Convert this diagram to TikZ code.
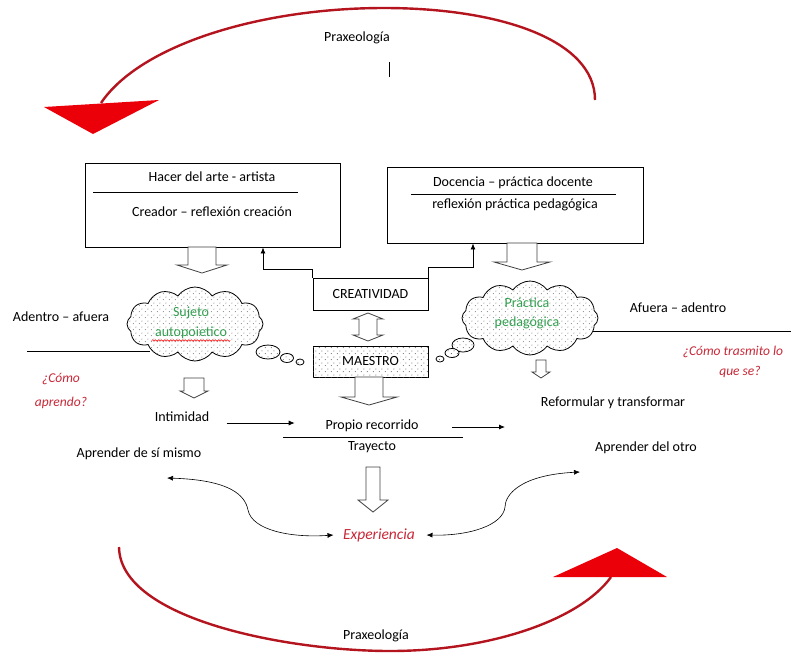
\documentclass[tikz,border=0pt]{standalone}
\usepackage{fontspec}
\setmainfont{Carlito}
\usetikzlibrary{arrows.meta,calc,decorations.pathmorphing,patterns.meta,positioning,shapes.geometric,shapes.symbols}

\definecolor{praxred}{RGB}{180,20,30}
\definecolor{headred}{RGB}{235,0,10}
\definecolor{handred}{RGB}{200,40,55}
\definecolor{cloudgreen}{RGB}{50,160,80}

\tikzdeclarepattern{
  name=sparsedots, type=colored,
  bottom left={(0pt,0pt)}, top right={(6pt,6pt)}, tile size={(6pt,6pt)},
  code={\fill[black!70] (1.5pt,1.5pt) circle (0.55pt);
        \fill[black!70] (4.5pt,4.5pt) circle (0.55pt);}
}

% hollow block arrow pointing down: x, y top, y tip, half shaft, half head, head length
\newcommand{\hollowdown}[6]{%
  \draw[blockarr] (#1-#4,#2) -- (#1-#4,#3-#6) -- (#1-#5,#3-#6) -- (#1,#3)
    -- (#1+#5,#3-#6) -- (#1+#4,#3-#6) -- (#1+#4,#2) -- cycle;}

\begin{document}
\begin{tikzpicture}[
  x=1pt, y=-1pt,
  >={Latex[length=6pt,width=5pt]},
  every node/.style={font=\fontsize{14}{16}\selectfont},
  box/.style={draw,line width=0.9pt,fill=white},
  dotbox/.style={box,postaction={pattern=sparsedots}},
  puff/.style={cloud,cloud puffs=12,cloud puff arc=110,aspect=2,draw,
    line width=0.8pt,fill=white,postaction={pattern=sparsedots},inner sep=0pt},
  bubble/.style={ellipse,draw,line width=0.8pt,fill=white,
    postaction={pattern=sparsedots},inner sep=0pt},
  blockarr/.style={draw=black!75,line width=0.8pt,fill=white},
  conn/.style={line width=0.8pt,->},
  praxloop/.style={praxred,line width=2.4pt},
  hand/.style={text=handred,font=\fontsize{13.5}{16}\selectfont\itshape},
  greentxt/.style={text=cloudgreen,font=\fontsize{14}{16}\selectfont}
]
  \useasboundingbox (0,0) rectangle (791,654);

  % top loop
  \draw[praxloop] (595,100) .. controls (595,40) and (500,8) .. (384,8)
    .. controls (260,8) and (140,45) .. (101,103);
  \fill[headred] (44,107) -- (159,100) -- (93,134) -- cycle;
  \node (praxtop) at (357,38) {Praxeología};
  \draw[line width=1pt] (389,62) -- (389,77);

  % upper boxes
  \node[box,minimum width=255pt,minimum height=84pt] (artista) at (212.5,205) {};
  \node (hacer) at (212,177) {Hacer del arte - artista};
  \draw[line width=0.8pt] (93,192) -- (298,192);
  \node (creador) at (212,212) {Creador -- reflexión creación};

  \node[box,minimum width=256pt,minimum height=76pt] (docente) at (515,205) {};
  \node (docencia) at (513,183) {Docencia -- práctica docente};
  \draw[line width=0.8pt] (411,194) -- (616,194);
  \node (reflex) at (515,205) {reflexión práctica pedagógica};

  \hollowdown{202}{247}{273}{14}{25}{8}
  \hollowdown{522}{243}{270}{15}{28}{8}

  % centre column
  \node[box,minimum width=115pt,minimum height=32pt] (crea) at (370.5,294) {CREATIVIDAD};
  \node[dotbox,minimum width=115pt,minimum height=31pt] (maestro) at (370.5,361.5) {};
  \node[fill=white,inner sep=1pt] (maestrotxt) at (370.5,361) {MAESTRO};
  \draw[conn] (crea.north west) -- ++(0,-8) -| ([xshift=50.5pt]artista.south);
  \draw[conn] (crea.north east) -- ++(0,-10) -| ([xshift=-42pt]docente.south);
  \draw[blockarr] (359,319) -- (353,319) -- (368,313) -- (383,319) -- (377,319)
    -- (377,335) -- (383,335) -- (368,341) -- (353,335) -- (359,335) -- cycle;
  \hollowdown{369}{377}{405}{14}{28}{8}

  % side lines
  \coordinate (leftend) at (27,351);
  \coordinate (rightend) at (791,331);
  \draw[line width=0.8pt] (leftend) -- (150,351);
  \draw[line width=0.8pt] (rightend) -- (580,331);

  % clouds and thought bubbles
  \node[puff,minimum width=136pt,minimum height=74pt] (lcloud) at (195,324) {};
  \node[greentxt] (sujeto) at (191,313) {Sujeto};
  \node[greentxt] (autop) at (191,333) {autopoietico};
  \draw[red,line width=0.5pt,decorate,decoration={snake,amplitude=0.8pt,segment length=3pt}]
    ([yshift=2pt]autop.south west) -- ([yshift=2pt]autop.south east);
  \node[bubble,minimum width=24pt,minimum height=14pt] (lb1) at (268,352) {};
  \node[bubble,minimum width=13pt,minimum height=9pt] (lb2) at (287,358) {};
  \node[bubble,minimum width=8pt,minimum height=6pt] (lb3) at (300,362) {};

  \node[puff,minimum width=136pt,minimum height=74pt] (rcloud) at (530,318) {};
  \node[greentxt] (practica) at (527,303) {Práctica};
  \node[greentxt] (pedag) at (527,323) {pedagógica};
  \node[bubble,minimum width=22pt,minimum height=14pt] (rb1) at (463,345) {};
  \node[bubble,minimum width=14pt,minimum height=9pt] (rb2) at (452,353) {};
  \node[bubble,minimum width=8pt,minimum height=6pt] (rb3) at (440,359) {};

  \hollowdown{194}{378}{398}{10}{14}{7}
  \hollowdown{541}{360}{378}{5}{9}{6}

  % side labels
  \node (adentro) at (61,317) {Adentro -- afuera};
  \node (afuera) at (678,308) {Afuera -- adentro};
  \node[hand,align=center] (aprendo) at (61,391) {¿Cómo\\[8pt]aprendo?};
  \node[hand] (trasmito) at (733,352) {¿Cómo trasmito lo};
  \node[hand] (quese) at (740,372) {que se?};

  % lower row
  \node (intim) at (182,417) {Intimidad};
  \node (recorrido) at (372,426) {Propio recorrido};
  \draw[line width=0.8pt] (283,437) -- (463,437);
  \node (trayecto) at (372,447) {Trayecto};
  \node (reform) at (613,403) {Reformular y transformar};
  \coordinate (recend) at (505,427);
  \draw[conn] ([xshift=14pt,yshift=-6pt]intim.east) -- ++(68,0);
  \draw[conn] ([xshift=30pt,yshift=-1pt]recorrido.east) -- (recend);

  \node (simismo) at (139,454) {Aprender de sí mismo};
  \node (delotro) at (646,448) {Aprender del otro};
  \hollowdown{373}{467}{512}{7}{15}{12}
  \node[hand,font=\fontsize{15.5}{18}\selectfont\itshape] (exper) at (379,535) {Experiencia};

  \draw[<->,line width=0.6pt] (167,478) .. controls (230,480) and (245,495) .. (248,510)
    .. controls (252,530) and (290,538) .. ([xshift=-6pt]exper.west);
  \draw[<->,line width=0.6pt] (580,472) .. controls (520,475) and (505,495) .. (505,507)
    .. controls (503,525) and (470,536) .. ([xshift=8pt]exper.east);

  % bottom loop
  \draw[praxloop] (119,547) .. controls (120,620) and (290,651) .. (390,651)
    .. controls (490,651) and (580,620) .. (611,577);
  \fill[headred] (553,577) -- (667,577) -- (617,548) -- cycle;
  \node (praxbot) at (376,636) {Praxeología};
\end{tikzpicture}
\end{document}
